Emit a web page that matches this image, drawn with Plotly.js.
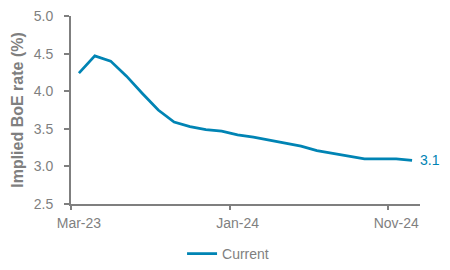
<!DOCTYPE html>
<html>
<head>
<meta charset="utf-8">
<script src="https://cdn.plot.ly/plotly-3.0.1.min.js"></script>
<style>html,body{margin:0;padding:0;background:#fff;}#chart{width:450px;height:270px;}</style>
</head>
<body>
<div id="chart"></div>
<script>
const months = ['Mar-23','Apr-23','May-23','Jun-23','Jul-23','Aug-23','Sep-23','Oct-23','Nov-23','Dec-23',
                'Jan-24','Feb-24','Mar-24','Apr-24','May-24','Jun-24','Jul-24','Aug-24','Sep-24','Oct-24','Nov-24','Dec-24'];
const current = [4.24,4.47,4.40,4.20,3.97,3.75,3.59,3.53,3.49,3.47,
                 3.42,3.39,3.35,3.31,3.27,3.21,3.17,3.13,3.10,3.10,3.10,3.08];
const seriesName = 'Current';
const yTitle = 'Implied BoE rate (%)';
const endLabel = '3.1';

const grey = '#7f7f7f';
const teal = '#0084b4';
const fontFam = 'Liberation Sans, Arial, sans-serif';

const trace = {
  x: months, y: current, type: 'scatter', mode: 'lines', name: seriesName,
  line: {color: teal, width: 2.75}, hoverinfo: 'skip'
};

const layout = {
  width: 450, height: 270,
  margin: {l: 71, r: 30, t: 16, b: 66, autoexpand: false},
  paper_bgcolor: '#fff', plot_bgcolor: '#fff',
  font: {family: fontFam, color: grey, size: 14},
  xaxis: {
    type: 'category', range: [-0.5, months.length - 0.5], automargin: false,
    tickmode: 'linear', tick0: 0, dtick: 10, tickson: 'boundaries', tickangle: 0,
    showgrid: false, zeroline: false, showline: true, linecolor: grey, linewidth: 2,
    ticks: 'outside', ticklen: 4, tickwidth: 2, tickcolor: grey,
    tickfont: {size: 14, color: grey}, ticklabelstandoff: 5
  },
  yaxis: {
    range: [2.5, 5.0], tickmode: 'linear', tick0: 2.5, dtick: 0.5, tickformat: '.1f', automargin: false,
    showgrid: false, zeroline: false, showline: true, linecolor: grey, linewidth: 2,
    ticks: 'outside', ticklen: 5, tickwidth: 2, tickcolor: grey,
    tickfont: {size: 14, color: grey}, ticklabelstandoff: 8,
    title: {text: '<b>' + yTitle + '</b>', font: {size: 16, color: grey}, standoff: 6}
  },
  showlegend: true,
  legend: {orientation: 'h', x: 0.45, xanchor: 'center', y: -0.266, yanchor: 'middle',
           font: {size: 14, color: grey}},
  annotations: [{
    x: months[months.length - 1], y: current[current.length - 1], xref: 'x', yref: 'y',
    text: endLabel, showarrow: false, xanchor: 'left', yanchor: 'middle', xshift: 6,
    font: {size: 14, color: teal}
  }]
};

Plotly.newPlot('chart', [trace], layout, {displayModeBar: false, staticPlot: true});
</script>
</body>
</html>
